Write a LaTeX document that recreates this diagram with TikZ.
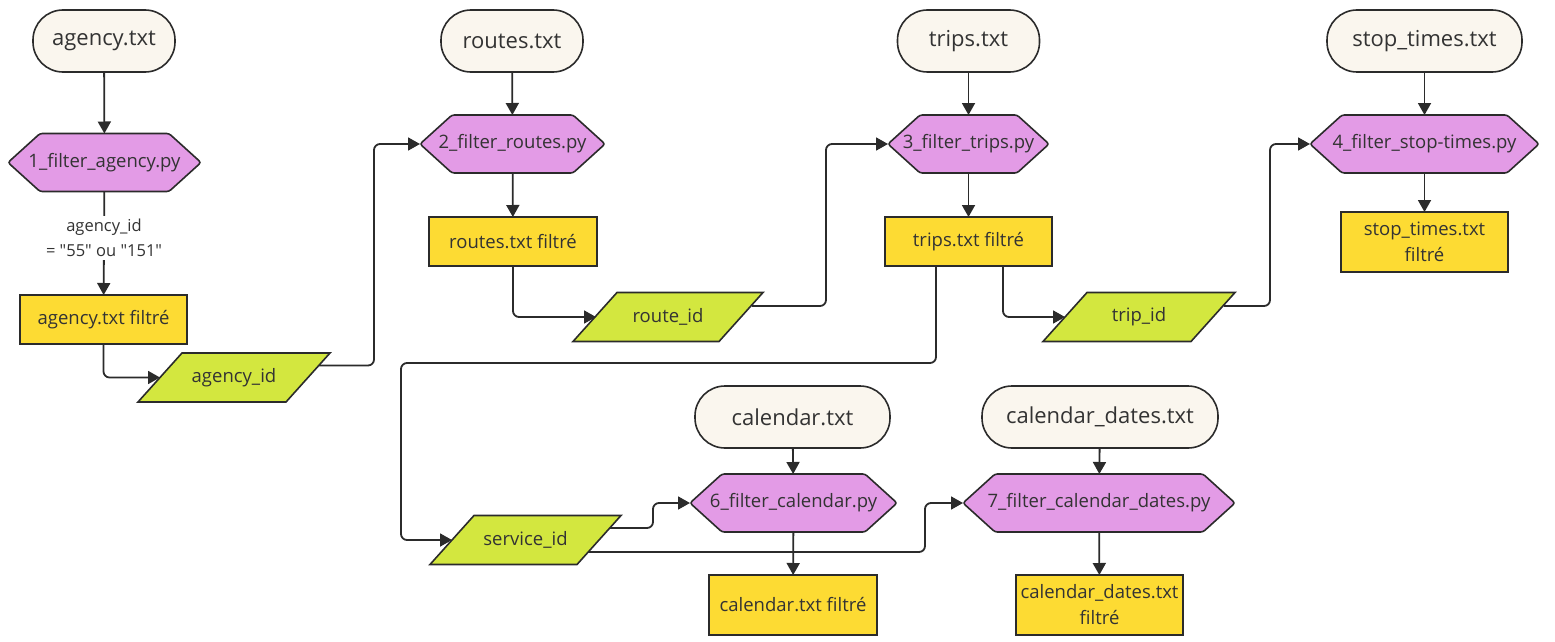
\documentclass[tikz,border=0pt]{standalone}
\usepackage{fontspec}
\setmainfont{Open Sans}[Ligatures=TeXOff]
\usetikzlibrary{arrows.meta,calc}
\definecolor{inkc}{HTML}{333333}
\definecolor{edgec}{HTML}{2B2B2B}
\definecolor{creamc}{HTML}{FAF6EE}
\definecolor{hexc}{HTML}{E39BE6}
\definecolor{goldc}{HTML}{FDDB33}
\definecolor{limec}{HTML}{D3E73F}
\pgfdeclarelayer{bg}\pgfsetlayers{bg,main}
\tikzset{
 nodebase/.style={inner sep=2pt, outer sep=0pt, text=inkc, align=center},
 capsule/.style={nodebase, draw=edgec, line width=1.6pt, fill=creamc, rounded corners=30pt, minimum height=62pt, font=\fontsize{22}{26}\selectfont},
 hexbox/.style={nodebase, minimum height=58pt, font=\fontsize{18.5}{24}\selectfont},
 hexfill/.style={draw=edgec, line width=1.6pt, fill=hexc, rounded corners=2.5pt},
 filebox/.style={nodebase, draw=edgec, line width=1.6pt, fill=goldc, font=\fontsize{18.5}{26}\selectfont},
 parabox/.style={nodebase, minimum height=49pt, font=\fontsize{18.5}{24}\selectfont},
 parafill/.style={draw=edgec, line width=1.6pt, fill=limec},
 conn/.style={draw=edgec, line width=1.8pt, rounded corners=6pt, -{Triangle[length=12pt,width=13pt]}},
 elabel/.style={fill=white, text=inkc, align=center, inner sep=3pt, font=\fontsize{16.5}{25}\selectfont},
}
\newcommand\hexdraw[1]{\begin{pgfonlayer}{bg}\filldraw[hexfill] (#1.west) -- ([xshift=32pt]#1.north west) -- ([xshift=-32pt]#1.north east) -- (#1.east) -- ([xshift=-32pt]#1.south east) -- ([xshift=32pt]#1.south west) -- cycle;\end{pgfonlayer}}
\newcommand\paradraw[1]{\begin{pgfonlayer}{bg}\filldraw[parafill] ([xshift=44pt]#1.north west) -- (#1.north east) -- ([xshift=-44pt]#1.south east) -- (#1.south west) -- cycle;\end{pgfonlayer}}
\begin{document}
\begin{tikzpicture}[x=1pt,y=-1pt]
\useasboundingbox (0,0) rectangle (1555,642);
% capsules
\node[capsule, minimum width=142pt] (cA) at (104,41) {agency.txt};
\node[capsule, minimum width=142pt] (cR) at (512,41) {routes.txt};
\node[capsule, minimum width=142pt] (cT) at (968.5,41) {trips.txt};
\node[capsule, minimum width=195pt] (cS) at (1424.5,41) {stop\_times.txt};
\node[capsule, minimum width=195pt] (cC) at (792.5,417) {calendar.txt};
\node[capsule, minimum width=236pt] (cD) at (1100,417) {calendar\_dates.txt};
% hexagons
\node[hexbox, minimum width=193pt] (h1) at (104.5,162.5) {1\_filter\_agency.py};
\node[hexbox, minimum width=185pt] (h2) at (512.5,144) {2\_filter\_routes.py};
\node[hexbox, minimum width=161pt] (h3) at (968.5,144) {3\_filter\_trips.py};
\node[hexbox, minimum width=229pt] (h4) at (1424.5,144) {4\_filter\_stop-times.py};
\node[hexbox, minimum width=207pt] (h6) at (793.5,503) {6\_filter\_calendar.py};
\node[hexbox, minimum width=272pt] (h7) at (1099,503) {7\_filter\_calendar\_dates.py};
\hexdraw{h1}\hexdraw{h2}\hexdraw{h3}\hexdraw{h4}\hexdraw{h6}\hexdraw{h7}
% filtered files
\node[filebox, minimum width=167pt, minimum height=49pt] (rA) at (103.5,319.5) {agency.txt filtré};
\node[filebox, minimum width=168pt, minimum height=49pt] (rR) at (513,241.5) {routes.txt filtré};
\node[filebox, minimum width=167pt, minimum height=49pt] (rT) at (968.5,241.5) {trips.txt filtré};
\node[filebox, minimum width=167pt, minimum height=60pt] (rS) at (1424.5,242) {stop\_times.txt\\filtré};
\node[filebox, minimum width=168pt, minimum height=60pt] (rC) at (793,605) {calendar.txt filtré};
\node[filebox, minimum width=167pt, minimum height=60pt] (rD) at (1099.5,605) {calendar\_dates.txt\\filtré};
% parallelograms
\node[parabox, minimum width=192pt] (pA) at (234,377.5) {agency\_id};
\node[parabox, minimum width=190pt] (pR) at (668,317) {route\_id};
\node[parabox, minimum width=192pt] (pT) at (1139,317) {trip\_id};
\node[parabox, minimum width=191pt] (pS) at (525.5,540) {service\_id};
\paradraw{pA}\paradraw{pR}\paradraw{pT}\paradraw{pS}
% connectors
\draw[conn] (cA) -- (h1);
\draw[conn] (h1) -- node[elabel, pos=0.45] (lab) {agency\_id\\= "55" ou "151"} (rA);
\draw[conn] (rA.south) |- ([xshift=22pt]pA.west);
\draw[conn] ([shift={(-11,-12)}]pA.east) -| ([xshift=-46pt]h2.west) -- (h2.west);
\draw[conn] (cR) -- (h2);
\draw[conn] (h2) -- (rR);
\draw[conn] (rR.south) |- ([xshift=23pt]pR.west);
\draw[conn] ([shift={(-11,-11)}]pR.east) -| ([xshift=-62pt]h3.west) -- (h3.west);
\draw[conn] (cT) -- (h3);
\draw[conn] (h3) -- (rT);
\draw[conn] ([xshift=34.5pt]rT.south) |- ([xshift=22pt]pT.west);
\draw[conn] ([xshift=-32.5pt]rT.south) |- (401,363) |- ([xshift=22pt]pS.west);
\draw[conn] ([shift={(-11,-11)}]pT.east) -| ([xshift=-40pt]h4.west) -- (h4.west);
\draw[conn] (cS) -- (h4);
\draw[conn] (h4) -- (rS);
\draw[conn] ([shift={(-11,-12)}]pS.east) -| ([xshift=-37pt]h6.west) -- (h6.west);
\draw[conn] ([shift={(-33,12)}]pS.east) -| ([xshift=-38pt]h7.west) -- (h7.west);
\draw[conn] (cC) -- (h6);
\draw[conn] (h6) -- (rC);
\draw[conn] (cD) -- (h7);
\draw[conn] (h7) -- (rD);
\end{tikzpicture}
\end{document}
